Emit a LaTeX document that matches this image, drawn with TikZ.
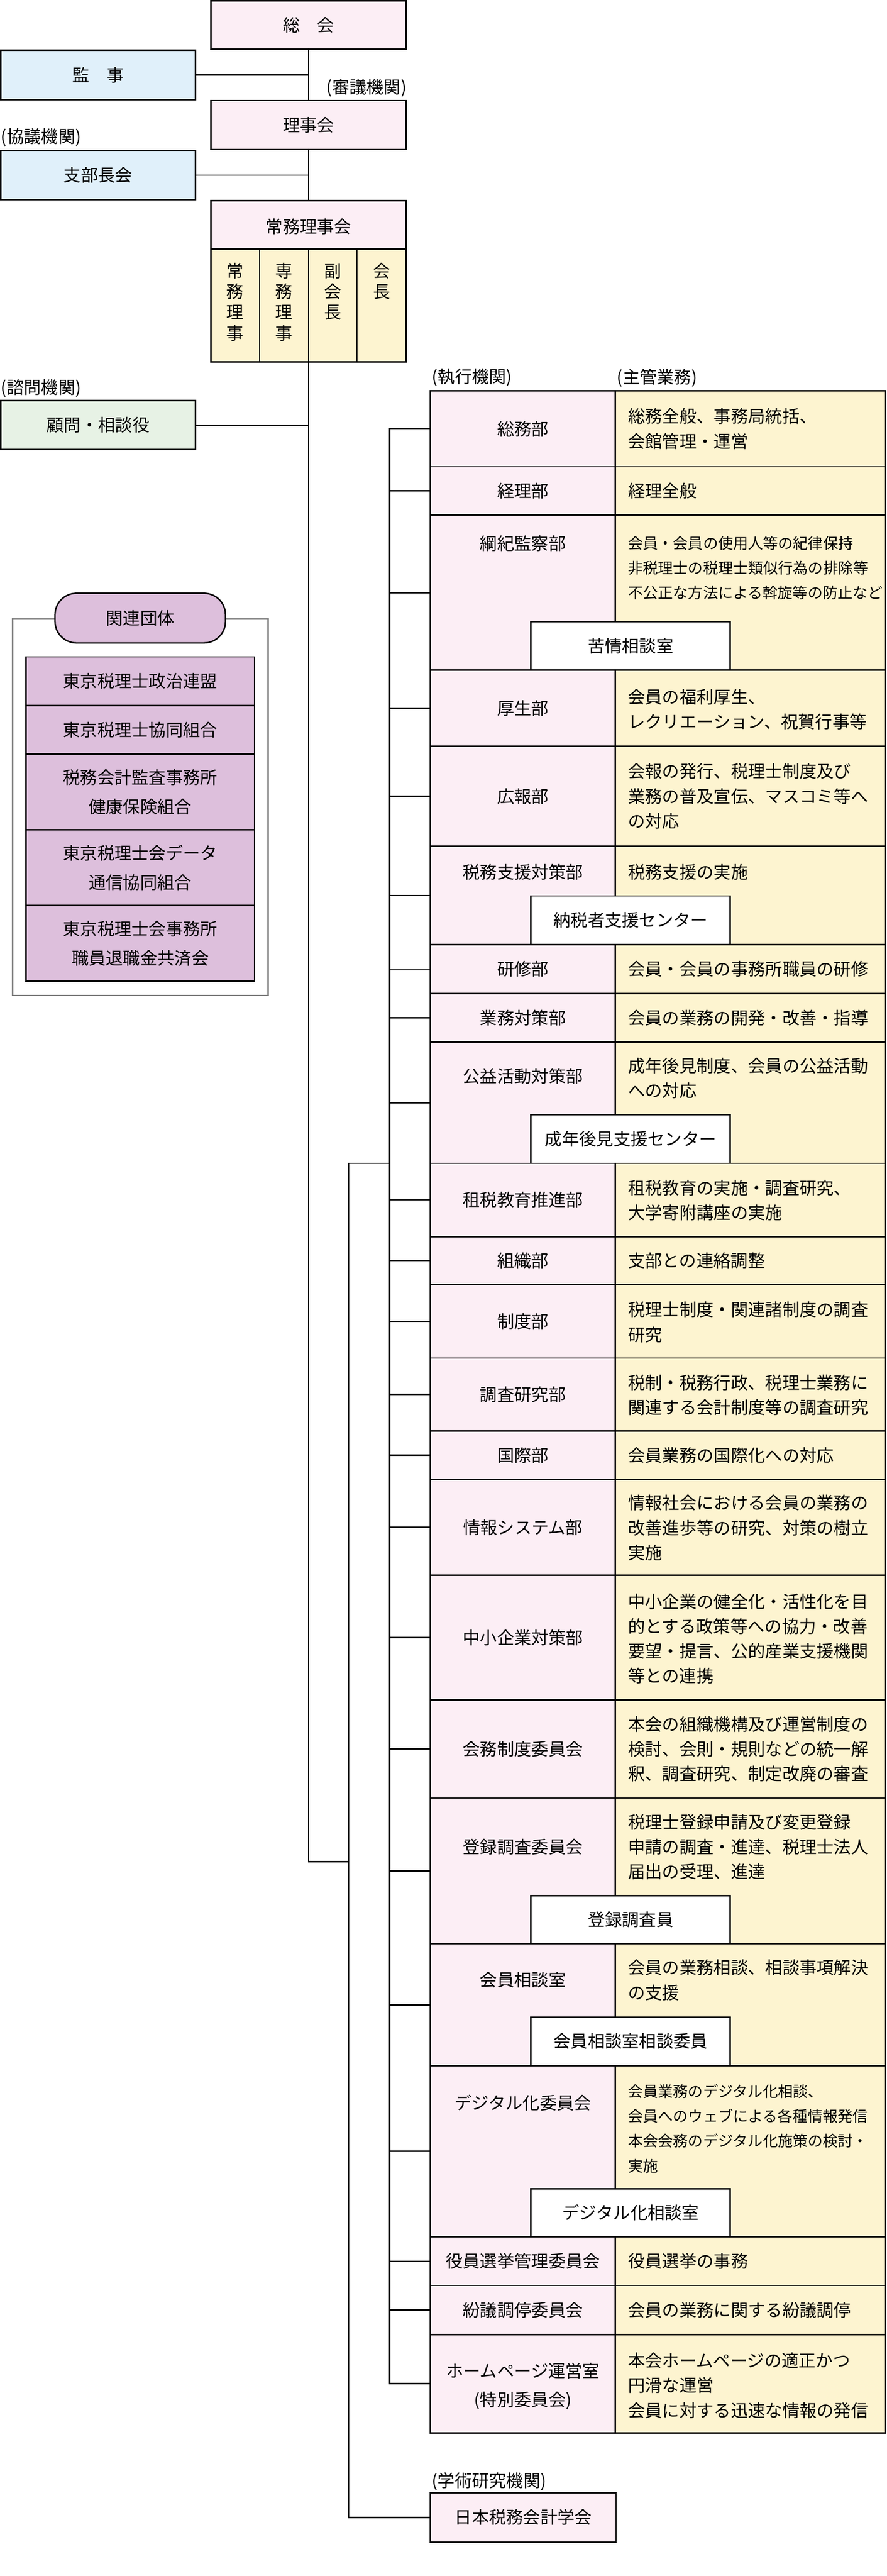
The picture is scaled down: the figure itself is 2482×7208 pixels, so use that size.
\documentclass[tikz,border=0pt]{standalone}
\usepackage{fontspec}
\setmainfont{Noto Sans CJK JP}
\usetikzlibrary{fit}
\definecolor{cpink}{HTML}{FCEEF5}
\definecolor{cblue}{HTML}{E0F0FA}
\definecolor{cgreen}{HTML}{E7F2E5}
\definecolor{cyellow}{HTML}{FDF4D0}
\definecolor{cpurple}{HTML}{DDBFDC}
\definecolor{cgray}{HTML}{7A7A7A}
\tikzset{
  cellbox/.style={draw=black, line width=1pt, inner sep=0pt, outer sep=0pt},
  pinkbox/.style={cellbox, fill=cpink},
  bluebox/.style={cellbox, fill=cblue},
  greenbox/.style={cellbox, fill=cgreen},
  yelbox/.style={cellbox, fill=cyellow},
  purbox/.style={cellbox, fill=cpurple},
  whitebox/.style={cellbox, fill=white},
  txt/.style={font=\fontsize{12}{20.4}\selectfont, inner sep=0pt, align=center},
  duty/.style={font=\fontsize{12}{17.4}\selectfont, inner sep=0pt, align=left, anchor=west},
  dutysm/.style={font=\fontsize{10.5}{17.4}\selectfont, inner sep=0pt, align=left, anchor=west},
  vtxt/.style={font=\fontsize{12}{14.5}\selectfont, inner sep=0pt, align=center},
  conn/.style={draw=black, line width=1pt},
  orglabel/.style={font=\fontsize{12}{14}\selectfont, inner sep=0pt},
}
\newcommand\orgrow[8]{%
  \node[pinkbox, fit={(1205,#2) (1722,#3)}] (#1) {};
  \node[yelbox, fit={(1722,#2) (2478,#3)}] (#1d) {};
  \node[txt] (#1t) at (1463.5,#4) {#5};
  \node[#7] (#1dt) at (1757,#6) {#8};
}
\newcommand\orgsub[4]{%
  \node[whitebox, fit={(1486,#2) (2044,#3)}] (#1) {};
  \node[txt] (#1t) at (#1.center) {#4};
}
\begin{document}
\begin{tikzpicture}[x=0.25pt,y=-0.25pt]
\useasboundingbox (0,0) rectangle (2482,7208);
\fill[white] (0,0) rectangle (2482,7208);

% top hierarchy
\node[pinkbox, fit={(590,2) (1137,138)}] (soukai) {};
\node[txt] (soukaiT) at (soukai.center) {総　会};
\node[bluebox, fit={(2,141) (547,279)}] (kanji) {};
\node[txt] (kanjiT) at (kanji.center) {監　事};
\node[pinkbox, fit={(590,281) (1137,418)}] (rijikai) {};
\node[txt] (rijikaiT) at (rijikai.center) {理事会};
\node[bluebox, fit={(2,421) (547,559)}] (shibu) {};
\node[txt] (shibuT) at (shibu.center) {支部長会};
\node[pinkbox, fit={(590,561) (1137,697)}] (jomu) {};
\node[txt] (jomuT) at (863.5,634) {常務理事会};
\node[yelbox, fit={(590,697) (1137,1013)}] (cols) {};
\draw[line width=0.8pt] (726,697) -- (726,1013) (863.5,697) -- (863.5,1013) (999,697) -- (999,1013);
\draw[line width=1pt] (590,697) -- (1137,697);
\node[vtxt] (v1) at (658,845) {常\\務\\理\\事};
\node[vtxt] (v2) at (794.5,845) {専\\務\\理\\事};
\node[vtxt] (v3) at (931,816.5) {副\\会\\長};
\node[vtxt] (v4) at (1068,787) {会\\長};
\node[greenbox, fit={(2,1121) (547,1258)}] (komon) {};
\node[txt] (komonT) at (komon.center) {顧問・相談役};

\node[orglabel, anchor=east] (l1) at (1139,246) {(審議機関)};
\node[orglabel, anchor=west] (l2) at (2,385) {(協議機関)};
\node[orglabel, anchor=west] (l3) at (2,1086) {(諮問機関)};
\node[orglabel, anchor=west] (l4) at (1208,1057) {(執行機関)};
\node[orglabel, anchor=west] (l5) at (1726,1057) {(主管業務)};
\node[orglabel, anchor=west] (l6) at (1208,6943) {(学術研究機関)};

% related organisations
\draw[cgray, line width=0.9pt] (35,1732) rectangle (750,2785);
\node[purbox, rounded corners=15pt, fit={(154,1660) (631,1799)}] (kanren) {};
\node[txt] (kanrenT) at (kanren.center) {関連団体};
\node[purbox, fit={(73,1838) (712,1974)}] (p1) {};
\node[txt] (p1t) at (p1.center) {東京税理士政治連盟};
\node[purbox, fit={(73,1974) (712,2110)}] (p2) {};
\node[txt] (p2t) at (p2.center) {東京税理士協同組合};
\node[purbox, fit={(73,2110) (712,2322)}] (p3) {};
\node[txt] (p3t) at (p3.center) {税務会計監査事務所\\健康保険組合};
\node[purbox, fit={(73,2322) (712,2534)}] (p4) {};
\node[txt] (p4t) at (p4.center) {東京税理士会データ\\通信協同組合};
\node[purbox, fit={(73,2534) (712,2746)}] (p5) {};
\node[txt] (p5t) at (p5.center) {東京税理士会事務所\\職員退職金共済会};

% executive rows
\orgrow{r1}{1093}{1306}{1200}{総務部}{1200}{duty}{総務全般、事務局統括、\\会館管理・運営}
\orgrow{r2}{1306}{1441}{1373.5}{経理部}{1373.5}{duty}{経理全般}
\orgrow{r3}{1441}{1875}{1520}{綱紀監察部}{1589}{dutysm}{会員・会員の使用人等の紀律保持\\非税理士の税理士類似行為の排除等\\不公正な方法による斡旋等の防止など}
\orgsub{s3}{1740}{1875}{苦情相談室}
\orgrow{r4}{1875}{2088}{1981.5}{厚生部}{1985}{duty}{会員の福利厚生、\\レクリエーション、祝賀行事等}
\orgrow{r5}{2088}{2368}{2228}{広報部}{2228}{duty}{会報の発行、税理士制度及び\\業務の普及宣伝、マスコミ等へ\\の対応}
\orgrow{r6}{2368}{2643}{2440}{税務支援対策部}{2440}{duty}{税務支援の実施}
\orgsub{s6}{2507}{2643}{納税者支援センター}
\orgrow{r7}{2643}{2780}{2711.5}{研修部}{2711.5}{duty}{会員・会員の事務所職員の研修}
\orgrow{r8}{2780}{2916}{2848}{業務対策部}{2848}{duty}{会員の業務の開発・改善・指導}
\orgrow{r9}{2916}{3255}{3011}{公益活動対策部}{3017}{duty}{成年後見制度、会員の公益活動\\への対応}
\orgsub{s9}{3119}{3255}{成年後見支援センター}
\orgrow{r10}{3255}{3460}{3357.5}{租税教育推進部}{3358.5}{duty}{租税教育の実施・調査研究、\\大学寄附講座の実施}
\orgrow{r11}{3460}{3595}{3527.5}{組織部}{3527.5}{duty}{支部との連絡調整}
\orgrow{r12}{3595}{3800}{3697.5}{制度部}{3699.5}{duty}{税理士制度・関連諸制度の調査\\研究}
\orgrow{r13}{3800}{4004}{3902}{調査研究部}{3903.5}{duty}{税制・税務行政、税理士業務に\\関連する会計制度等の調査研究}
\orgrow{r14}{4004}{4140}{4072}{国際部}{4072}{duty}{会員業務の国際化への対応}
\orgrow{r15}{4140}{4408}{4274}{情報システム部}{4275}{duty}{情報社会における会員の業務の\\改善進歩等の研究、対策の樹立\\実施}
\orgrow{r16}{4408}{4756}{4582}{中小企業対策部}{4585.5}{duty}{中小企業の健全化・活性化を目\\的とする政策等への協力・改善\\要望・提言、公的産業支援機関\\等との連携}
\orgrow{r17}{4756}{5031}{4893.5}{会務制度委員会}{4894}{duty}{本会の組織機構及び運営制度の\\検討、会則・規則などの統一解\\釈、調査研究、制定改廃の審査}
\orgrow{r18}{5031}{5439}{5168}{登録調査委員会}{5168}{duty}{税理士登録申請及び変更登録\\申請の調査・進達、税理士法人\\届出の受理、進達}
\orgsub{s18}{5304}{5439}{登録調査員}
\orgrow{r19}{5439}{5780}{5540}{会員相談室}{5540.5}{duty}{会員の業務相談、相談事項解決\\の支援}
\orgsub{s19}{5644}{5780}{会員相談室相談委員}
\orgrow{r20}{5780}{6259}{5884}{デジタル化委員会}{5956}{dutysm}{会員業務のデジタル化相談、\\会員へのウェブによる各種情報発信\\本会会務のデジタル化施策の検討・\\実施}
\orgsub{s20}{6124}{6259}{デジタル化相談室}
\orgrow{r21}{6259}{6395}{6327}{役員選挙管理委員会}{6327}{duty}{役員選挙の事務}
\orgrow{r22}{6395}{6532}{6463.5}{紛議調停委員会}{6463.5}{duty}{会員の業務に関する紛議調停}
\orgrow{r23}{6532}{6808}{6677}{ホームページ運営室\\(特別委員会)}{6675}{duty}{本会ホームページの適正かつ\\円滑な運営\\会員に対する迅速な情報の発信}

\node[pinkbox, fit={(1205,6975) (1724,7113)}] (gakkai) {};
\node[txt] (gakkaiT) at (gakkai.center) {日本税務会計学会};

% connectors
\coordinate (bus1) at (1090,0);
\coordinate (bus2) at (975,0);
\coordinate (tj) at (863.5,5209);
\draw[conn] (soukai.south) -- (rijikai.north);
\draw[conn] (rijikai.south) -- (jomu.north);
\draw[conn] (kanji.east) -- (kanji.east -| soukai.south);
\draw[conn] (shibu.east) -- (shibu.east -| soukai.south);
\draw[conn] (komon.east) -- (komon.east -| soukai.south);
\draw[conn] (cols.south) -- (tj) -- (tj -| bus2);
\draw[conn] (r1.west) -- (r1.west -| bus1) -- (r23.west -| bus1) -- (r23.west);
\foreach \n in {r2,r3,r4,r5,r6,r7,r8,r9,r10,r11,r12,r13,r14,r15,r16,r17,r18,r19,r20,r21,r22}
  \draw[conn] (\n.west -| bus1) -- (\n.west);
\draw[conn] (r9.south west -| bus1) -- (r9.south west -| bus2) -- (gakkai.west -| bus2) -- (gakkai.west);
\end{tikzpicture}
\end{document}
